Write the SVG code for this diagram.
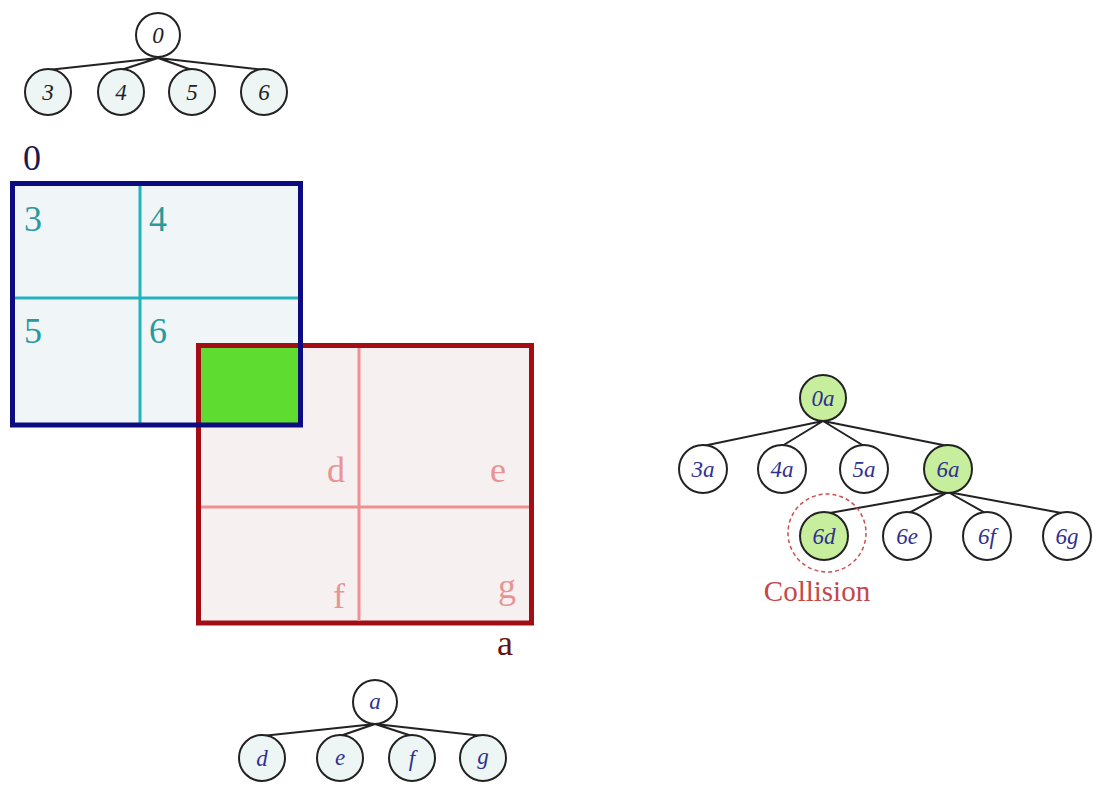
<svg xmlns="http://www.w3.org/2000/svg" width="1093" height="787" viewBox="0 0 1093 787">
<style>
.n{stroke:#222;stroke-width:2}
.w{fill:#fff}
.lb{fill:#eef5f5}
.gr{fill:#c6ee9c}
.e{stroke:#222;stroke-width:2;fill:none}
.t{font-family:"Liberation Serif",serif;font-style:italic;text-anchor:middle}
.tk{fill:#222;font-size:23px}
.tb{fill:#303090;font-size:23px}
.bl{font-family:"Liberation Serif",serif;font-size:36px}
</style>
<rect width="1093" height="787" fill="#fff"/>
<g id="connectors">
<path class="e" d="M158 58 L48 70 M158 58 L121 70 M158 58 L192 70 M158 58 L264 70"/>
<path class="e" d="M375 724 L262 736 M375 724 L340 736 M375 724 L412 736 M375 724 L483 736"/>
<path class="e" d="M823 421 L703 446 M823 421 L782 446 M823 421 L864 446 M823 421 L948 446"/>
<path class="e" d="M948 492 L824 514 M948 492 L907 514 M948 492 L987 514 M948 492 L1067 514"/>
</g>
<g id="tree0">
<g id="n0"><circle class="n w" cx="158" cy="35" r="22"/><text class="t tk" x="158" y="43">0</text></g>
<g id="n3"><circle class="n lb" cx="48" cy="92" r="23"/><text class="t tk" x="48" y="100">3</text></g>
<g id="n4"><circle class="n lb" cx="121" cy="92" r="23"/><text class="t tk" x="121" y="100">4</text></g>
<g id="n5"><circle class="n lb" cx="192" cy="92" r="23"/><text class="t tk" x="192" y="100">5</text></g>
<g id="n6"><circle class="n lb" cx="264" cy="92" r="23"/><text class="t tk" x="264" y="100">6</text></g>
</g>
<g id="treeA">
<g id="na"><circle class="n w" cx="375" cy="702" r="22"/><text class="t tb" x="375" y="709">a</text></g>
<g id="nd"><circle class="n lb" cx="262" cy="758" r="23"/><text class="t tb" x="262" y="766">d</text></g>
<g id="ne"><circle class="n lb" cx="340" cy="758" r="23"/><text class="t tb" x="340" y="765">e</text></g>
<g id="nf"><circle class="n lb" cx="412" cy="758" r="23"/><text class="t tb" x="412" y="766">f</text></g>
<g id="ng"><circle class="n lb" cx="483" cy="758" r="23"/><text class="t tb" x="483" y="764">g</text></g>
</g>
<g id="boxes">
<g id="box0">
<rect x="12.5" y="183.5" width="288" height="241.5" fill="#f0f6f8"/>
<path d="M140 184 V425 M13 298 H300" stroke="#22b4bc" stroke-width="3"/>
<text class="bl" x="23" y="170" fill="#1a1a50">0</text>
<text class="bl" x="24" y="231" fill="#2a9a9c">3</text>
<text class="bl" x="149" y="231" fill="#2a9a9c">4</text>
<text class="bl" x="24" y="343" fill="#2a9a9c">5</text>
<text class="bl" x="149" y="343" fill="#2a9a9c">6</text>
</g>
<g id="boxA">
<rect x="198.5" y="345.5" width="333" height="277.5" fill="#f6f0f0" stroke="#a30e14" stroke-width="5"/>
<path d="M359 348 V621 M201 507 H529" stroke="#f09090" stroke-width="3"/>
<rect x="201" y="348" width="98" height="75" fill="#5edc30"/>
<path d="M198.5 345.5 H300 M198.5 345.5 V425" stroke="#a30e14" stroke-width="5" fill="none"/>
<g class="bl" fill="#e89494" text-anchor="end">
<text x="345" y="482">d</text>
<text x="506" y="482">e</text>
<text x="345" y="608">f</text>
<text x="516" y="598">g</text>
</g>
<text class="bl" x="497" y="655" fill="#6a1010">a</text>
</g>
<rect id="box0border" x="12.5" y="183.5" width="288" height="241.5" fill="none" stroke="#0c0c80" stroke-width="5"/>
</g>
<g id="treeCombined">
<circle cx="827" cy="533" r="39" fill="none" stroke="#c85050" stroke-width="1.5" stroke-dasharray="4 3"/>
<g id="n0a"><circle class="n gr" cx="823" cy="398" r="23"/><text class="t tb" x="823" y="406">0a</text></g>
<g id="n3a"><circle class="n w" cx="703" cy="469" r="24"/><text class="t tb" x="703" y="477">3a</text></g>
<g id="n4a"><circle class="n w" cx="782" cy="469" r="24"/><text class="t tb" x="782" y="477">4a</text></g>
<g id="n5a"><circle class="n w" cx="864" cy="469" r="24"/><text class="t tb" x="864" y="477">5a</text></g>
<g id="n6a"><circle class="n gr" cx="948" cy="469" r="24"/><text class="t tb" x="948" y="477">6a</text></g>
<g id="n6d"><circle class="n gr" cx="824" cy="536" r="24"/><text class="t tb" x="824" y="544">6d</text></g>
<g id="n6e"><circle class="n w" cx="907" cy="536" r="24"/><text class="t tb" x="907" y="544">6e</text></g>
<g id="n6f"><circle class="n w" cx="987" cy="536" r="24"/><text class="t tb" x="987" y="544">6f</text></g>
<g id="n6g"><circle class="n w" cx="1067" cy="536" r="24"/><text class="t tb" x="1067" y="544">6g</text></g>
<text x="817" y="601" font-family="Liberation Serif,serif" font-size="29" fill="#c44848" text-anchor="middle">Collision</text>
</g>
</svg>
